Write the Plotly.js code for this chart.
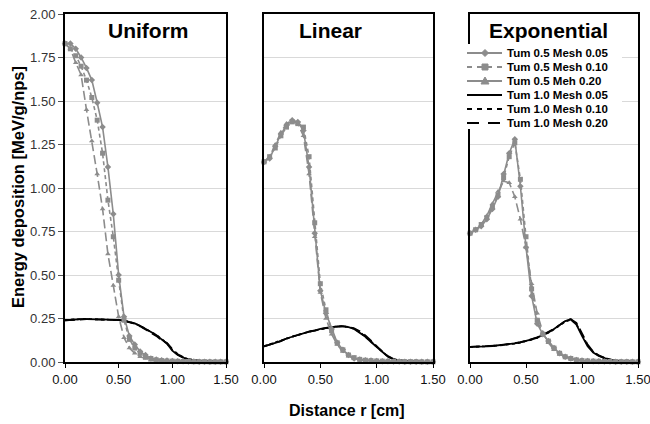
<!DOCTYPE html>
<html>
<head>
<meta charset="utf-8">
<script src="https://cdn.plot.ly/plotly-3.0.1.min.js"></script>
<style>html,body{margin:0;padding:0;background:#fff;}#chart{width:650px;height:424px;}</style>
</head>
<body>
<div id="chart"></div>
<script>
// ---------------- DATA ----------------
const r = [0.00,0.05,0.10,0.15,0.20,0.25,0.30,0.35,0.40,0.45,0.50,0.55,0.60,0.65,0.70,0.75,0.80,0.85,0.90,0.95,1.00,1.05,1.10,1.15,1.20,1.25,1.30,1.35,1.40,1.45,1.50];

const panelTitles = ["Uniform", "Linear", "Exponential"];
const seriesNames = ["Tum 0.5 Mesh 0.05", "Tum 0.5 Mesh 0.10", "Tum 0.5 Meh 0.20", "Tum 1.0 Mesh 0.05", "Tum 1.0 Mesh 0.10", "Tum 1.0 Mesh 0.20"];
const xTickVals = [0, 0.5, 1.0, 1.5];
const xTickText = ["0.00", "0.50", "1.00", "1.50"];
const yTickVals = [0, 0.25, 0.5, 0.75, 1.0, 1.25, 1.5, 1.75, 2.0];
const yTickText = ["0.00", "0.25", "0.50", "0.75", "1.00", "1.25", "1.50", "1.75", "2.00"];
const xTitle = "Distance r [cm]";
const yTitle = "Energy deposition [MeV/g/nps]";

// Uniform
const uniT05M005 = [1.83,1.83,1.80,1.75,1.69,1.62,1.49,1.35,1.12,0.85,0.50,0.26,0.15,0.10,0.06,0.04,0.02,0.015,0.010,0.008,0.006,0.005,0.004,0.003,0.003,0.002,0.002,0.002,0.001,0.001,0.001];
const uniT05M010 = [1.83,1.80,1.76,1.70,1.62,1.52,1.39,1.20,0.93,0.72,0.47,0.24,0.13,0.08,0.05,0.03,0.02,0.012,0.008,0.006,0.005,0.004,0.003,0.003,0.002,0.002,0.002,0.001,0.001,0.001,0.001];
const uniT05M020 = [1.83,1.80,1.72,1.65,1.45,1.27,1.08,0.88,0.62,0.44,0.26,0.14,0.08,0.05,0.03,0.02,0.010,0.008,0.006,0.005,0.004,0.003,0.003,0.002,0.002,0.002,0.001,0.001,0.001,0.001,0.001];
const uniT10M005 = [0.240,0.243,0.245,0.246,0.246,0.246,0.246,0.246,0.245,0.244,0.242,0.238,0.232,0.222,0.208,0.190,0.172,0.155,0.130,0.105,0.065,0.040,0.025,0.015,0.010,0.006,0.004,0.003,0.002,0.001,0.001];
const uniT10M010 = [0.241,0.244,0.246,0.247,0.247,0.246,0.246,0.245,0.245,0.243,0.241,0.237,0.231,0.221,0.207,0.190,0.173,0.156,0.132,0.108,0.070,0.043,0.027,0.016,0.010,0.006,0.004,0.003,0.002,0.001,0.001];
const uniT10M020 = [0.240,0.242,0.245,0.246,0.246,0.246,0.245,0.245,0.244,0.243,0.241,0.236,0.230,0.220,0.205,0.188,0.170,0.150,0.125,0.110,0.075,0.045,0.028,0.017,0.011,0.007,0.004,0.003,0.002,0.001,0.001];

// Linear
const linT05M005 = [1.15,1.17,1.24,1.31,1.36,1.39,1.38,1.33,1.12,0.74,0.41,0.28,0.19,0.11,0.07,0.04,0.020,0.015,0.010,0.008,0.006,0.005,0.004,0.003,0.003,0.002,0.002,0.002,0.001,0.001,0.001];
const linT05M010 = [1.15,1.18,1.23,1.30,1.35,1.38,1.37,1.35,1.18,0.80,0.45,0.30,0.18,0.11,0.07,0.04,0.025,0.015,0.010,0.008,0.006,0.005,0.004,0.003,0.003,0.002,0.002,0.002,0.001,0.001,0.001];
const linT05M020 = [1.15,1.18,1.25,1.32,1.37,1.39,1.37,1.30,1.08,0.72,0.40,0.25,0.16,0.10,0.06,0.035,0.020,0.012,0.008,0.006,0.005,0.004,0.003,0.003,0.002,0.002,0.002,0.001,0.001,0.001,0.001];
const linT10M005 = [0.090,0.100,0.110,0.120,0.135,0.145,0.155,0.165,0.175,0.180,0.190,0.195,0.200,0.205,0.205,0.200,0.190,0.170,0.145,0.115,0.085,0.055,0.030,0.015,0.008,0.005,0.003,0.002,0.001,0.001,0.000];
const linT10M010 = [0.091,0.101,0.111,0.121,0.134,0.146,0.156,0.166,0.174,0.181,0.189,0.196,0.201,0.204,0.206,0.201,0.191,0.172,0.147,0.118,0.088,0.058,0.032,0.016,0.009,0.005,0.003,0.002,0.001,0.001,0.000];
const linT10M020 = [0.090,0.100,0.110,0.121,0.135,0.145,0.156,0.165,0.175,0.181,0.190,0.196,0.200,0.205,0.206,0.202,0.193,0.176,0.152,0.122,0.090,0.060,0.034,0.017,0.009,0.005,0.003,0.002,0.001,0.001,0.000];

// Exponential
const expT05M005 = [0.74,0.76,0.78,0.82,0.88,0.95,1.08,1.20,1.28,1.01,0.66,0.38,0.22,0.16,0.12,0.08,0.05,0.03,0.02,0.012,0.008,0.006,0.005,0.004,0.003,0.003,0.002,0.002,0.002,0.001,0.001];
const expT05M010 = [0.74,0.76,0.79,0.83,0.89,0.96,1.06,1.18,1.26,1.05,0.72,0.42,0.24,0.16,0.12,0.08,0.05,0.03,0.02,0.012,0.008,0.006,0.005,0.004,0.003,0.003,0.002,0.002,0.002,0.001,0.001];
const expT05M020 = [0.74,0.76,0.79,0.84,0.91,0.98,1.04,1.03,0.95,0.82,0.66,0.45,0.28,0.17,0.11,0.07,0.045,0.03,0.02,0.012,0.008,0.006,0.005,0.004,0.003,0.003,0.002,0.002,0.001,0.001,0.001];
const expT10M005 = [0.087,0.087,0.088,0.090,0.092,0.095,0.098,0.102,0.107,0.113,0.120,0.130,0.140,0.155,0.170,0.190,0.210,0.235,0.245,0.215,0.150,0.090,0.055,0.035,0.022,0.013,0.008,0.005,0.003,0.002,0.001];
const expT10M010 = [0.086,0.087,0.088,0.089,0.092,0.094,0.098,0.101,0.106,0.112,0.119,0.128,0.139,0.153,0.168,0.188,0.208,0.232,0.243,0.218,0.158,0.096,0.058,0.036,0.023,0.014,0.008,0.005,0.003,0.002,0.001];
const expT10M020 = [0.087,0.088,0.089,0.090,0.093,0.095,0.099,0.103,0.108,0.114,0.121,0.131,0.141,0.156,0.171,0.190,0.212,0.236,0.246,0.225,0.165,0.100,0.060,0.038,0.024,0.014,0.009,0.005,0.003,0.002,0.001];

// ---------------- STYLE / BUILD ----------------
const GRAY = "#8c8c8c";
const FONT = "Liberation Sans, Arial, sans-serif";
const styles = [
  {color: GRAY, dash: "solid", symbol: "diamond", width: 1.6},
  {color: GRAY, dash: "4px,3px", symbol: "square", width: 1.6},
  {color: GRAY, dash: "9px,4px", symbol: "triangle-up", width: 1.6},
  {color: "#000", dash: "solid", symbol: null, width: 1.8},
  {color: "#000", dash: "3px,3px", symbol: null, width: 1.8},
  {color: "#000", dash: "10px,5px", symbol: null, width: 1.8}
];
const panels = [
  [uniT05M005, uniT05M010, uniT05M020, uniT10M005, uniT10M010, uniT10M020],
  [linT05M005, linT05M010, linT05M020, linT10M005, linT10M010, linT10M020],
  [expT05M005, expT05M010, expT05M020, expT10M005, expT10M010, expT10M020]
];

const traces = [];
const order = [3, 4, 5, 2, 1, 0];
panels.forEach((series, p) => {
  const ax = p === 0 ? "" : String(p + 1);
  order.forEach(i => {
    const s = styles[i];
    const t = {
      type: "scatter", x: r, y: series[i], name: seriesNames[i],
      xaxis: "x" + ax, yaxis: "y" + ax, showlegend: false,
      mode: s.symbol ? "lines+markers" : "lines",
      line: {color: s.color, dash: s.dash, width: s.width},
      cliponaxis: false
    };
    if (s.symbol) t.marker = {symbol: s.symbol, size: 5, color: s.color};
    traces.push(t);
  });
});

// pixel helpers (plot area: x 65..638, y 14..362)
const L = 65, R = 12, T = 14, B = 62, W = 650, H = 424;
const pw = W - L - R, ph = H - T - B;
const px = v => (v - L) / pw;
const py = v => (H - B - v) / ph;

const domains = [[px(65), px(226)], [px(264), px(433)], [px(470), px(638)]];

const layout = {
  width: W, height: H,
  margin: {l: L, r: R, t: T, b: B, pad: 0},
  paper_bgcolor: "#fff", plot_bgcolor: "#fff",
  font: {family: FONT, size: 13, color: "#222"},
  showlegend: false,
  shapes: [], annotations: []
};
domains.forEach((d, p) => {
  const ax = p === 0 ? "" : String(p + 1);
  layout["xaxis" + ax] = {
    domain: d, range: [0, 1.5], anchor: "y" + ax,
    tickvals: xTickVals, ticktext: xTickText,
    ticks: "outside", ticklen: 4, tickcolor: "#000",
    ticklabeloverflow: "allow",
    showgrid: false, zeroline: false,
    showline: true, mirror: true, linecolor: "#000", linewidth: 2,
    tickfont: {family: FONT, size: 13, color: "#111"}
  };
  layout["yaxis" + ax] = {
    domain: [0, 1], range: [0, 2], anchor: "x" + ax,
    tickvals: yTickVals, ticktext: yTickText,
    ticks: p === 0 ? "outside" : "", ticklen: 5, tickcolor: "#555",
    showticklabels: p === 0,
    showgrid: true, gridcolor: "#d9d9d9", gridwidth: 1, zeroline: false,
    showline: true, mirror: true, linecolor: "#000", linewidth: 2,
    tickfont: {family: FONT, size: 13, color: "#333"}
  };
  layout.annotations.push({
    text: "<b>" + panelTitles[p] + "</b>", xref: "x" + ax, yref: "paper",
    x: [0.78, 0.59, 0.70][p], y: py(30), xanchor: "center", yanchor: "middle",
    showarrow: false, font: {family: FONT, size: 21, color: "#000"}
  });
});

// axis titles
layout.annotations.push({
  text: "<b>" + yTitle + "</b>", xref: "paper", yref: "paper",
  x: px(18), y: py(187), xanchor: "center", yanchor: "middle", textangle: -90,
  showarrow: false, font: {family: FONT, size: 16.5, color: "#000"}
});
layout.annotations.push({
  text: "<b>" + xTitle + "</b>", xref: "paper", yref: "paper",
  x: px(347), y: py(410), xanchor: "center", yanchor: "middle",
  showarrow: false, font: {family: FONT, size: 16, color: "#000"}
});

// manual legend
layout.shapes.push({
  type: "rect", xref: "paper", yref: "paper", layer: "above",
  x0: px(462), x1: px(622), y0: py(44), y1: py(129),
  fillcolor: "#fff", line: {width: 0}
});
const rowY = [53, 67, 81, 95, 109, 123];
const legDash = ["solid", "5px,5px", "solid", "solid", "5px,5px", "12px,9px"];
seriesNames.forEach((nm, i) => {
  const s = styles[i];
  const y = rowY[i];
  layout.shapes.push({
    type: "line", xref: "paper", yref: "paper", layer: "above",
    x0: px(467), x1: px(502), y0: py(y), y1: py(y),
    line: {color: s.color, width: 2, dash: legDash[i]}
  });
  if (s.symbol) {
    const cx = 485, cy = y, k = 3.5;
    let path;
    if (s.symbol === "diamond") path = `M${px(cx)},${py(cy - k)} L${px(cx + k)},${py(cy)} L${px(cx)},${py(cy + k)} L${px(cx - k)},${py(cy)} Z`;
    else if (s.symbol === "square") path = `M${px(cx - 3)},${py(cy - 3)} L${px(cx + 3)},${py(cy - 3)} L${px(cx + 3)},${py(cy + 3)} L${px(cx - 3)},${py(cy + 3)} Z`;
    else path = `M${px(cx)},${py(cy - 4)} L${px(cx + 4)},${py(cy + 3)} L${px(cx - 4)},${py(cy + 3)} Z`;
    layout.shapes.push({type: "path", xref: "paper", yref: "paper", layer: "above", path: path, fillcolor: s.color, line: {color: s.color, width: 1}});
  }
  layout.annotations.push({
    text: "<b>" + nm + "</b>", xref: "paper", yref: "paper",
    x: px(505), y: py(y), xanchor: "left", yanchor: "middle",
    showarrow: false, font: {family: FONT, size: 11.5, color: "#000"}
  });
});

Plotly.newPlot("chart", traces, layout, {displayModeBar: false, staticPlot: true});
</script>
</body>
</html>
